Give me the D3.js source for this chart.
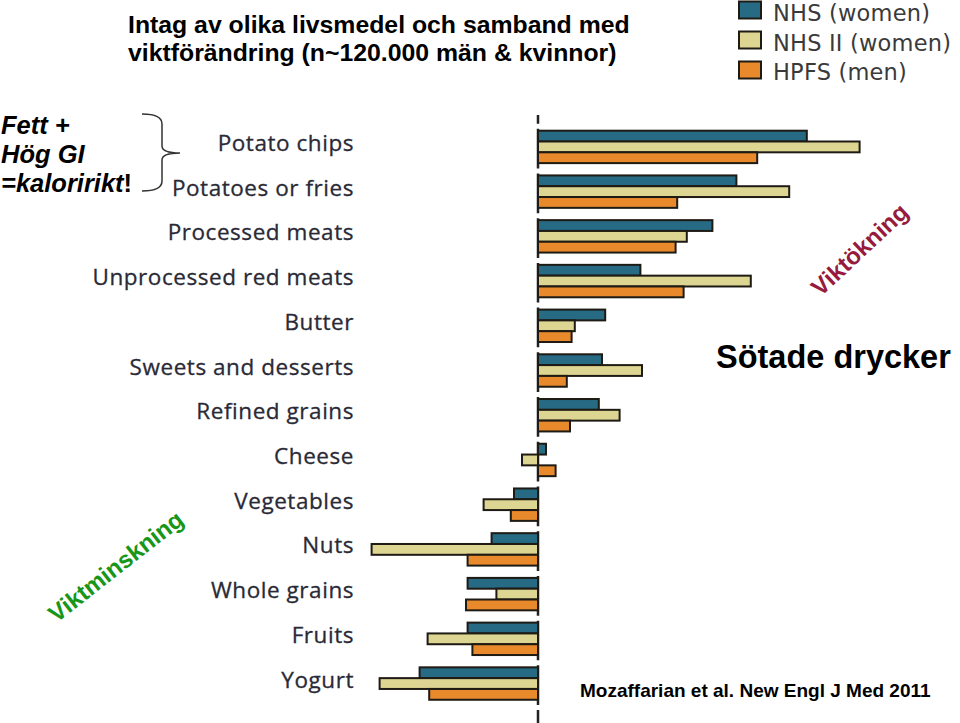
<!DOCTYPE html>
<html>
<head>
<meta charset="utf-8">
<script src="https://cdn.jsdelivr.net/npm/d3@7"></script>
<style>
  html, body { margin: 0; padding: 0; background: #fff; }
  svg { display: block; }
</style>
</head>
<body>
<svg id="chart" width="960" height="723"></svg>
<script>
// ---- data (weight change, lb per 4 years) ----
const categories = ["Potato chips", "Potatoes or fries", "Processed meats", "Unprocessed red meats",
  "Butter", "Sweets and desserts", "Refined grains", "Cheese", "Vegetables", "Nuts",
  "Whole grains", "Fruits", "Yogurt"];
const seriesNames = ["NHS (women)", "NHS II (women)", "HPFS (men)"];
const nhs    = [1.68, 1.24, 1.09, 0.64, 0.42, 0.40, 0.38, 0.05, -0.15, -0.29, -0.44, -0.44, -0.74];
const nhs2   = [2.01, 1.57, 0.93, 1.33, 0.23, 0.65, 0.51, -0.10, -0.34, -1.04, -0.26, -0.69, -0.99];
const hpfs   = [1.37, 0.87, 0.86, 0.91, 0.21, 0.18, 0.20, 0.11, -0.17, -0.44, -0.45, -0.41, -0.68];
const seriesValues = [nhs, nhs2, hpfs];
const colors = ["#276a84", "#ddd592", "#e88a2c"];

const svg = d3.select("#chart");

// scales
const x = d3.scaleLinear().domain([-1.5, 2.5]).range([298, 938]);
const y = d3.scaleBand().domain(categories)
  .range([124.55, 124.55 + 44.72 * categories.length])
  .paddingInner(0.275).paddingOuter(0.1375);
const ySub = d3.scaleBand().domain(d3.range(seriesNames.length)).range([0, y.bandwidth()]);

// dashed zero line
const step = y.step();
svg.append("line")
  .attr("x1", x(0)).attr("x2", x(0))
  .attr("y1", 115).attr("y2", 723)
  .attr("stroke", "#222").attr("stroke-width", 2.5)
  .attr("stroke-dasharray", `${step - 5},5`)
  .attr("stroke-dashoffset", 31);

// bars
const barData = [];
categories.forEach((c, i) => {
  seriesValues.forEach((vals, s) => barData.push({ cat: c, s, v: vals[i] }));
});
svg.append("g").selectAll("rect").data(barData).join("rect")
  .attr("x", d => Math.min(x(0), x(d.v)))
  .attr("width", d => Math.abs(x(d.v) - x(0)))
  .attr("y", d => y(d.cat) + ySub(d.s))
  .attr("height", ySub.bandwidth())
  .attr("fill", d => colors[d.s])
  .attr("stroke", "#1e1a14").attr("stroke-width", 2);

// category labels
svg.append("g").selectAll("text").data(categories).join("text")
  .attr("x", 354)
  .attr("y", d => y(d) + y.bandwidth() / 2 - 2)
  .attr("text-anchor", "end")
  .attr("dominant-baseline", "middle")
  .attr("font-family", "'Open Sans', sans-serif")
  .attr("font-size", 22.5)
  .attr("letter-spacing", 0.55)
  .attr("fill", "#2a2a36")
  .attr("stroke", "#2a2a36").attr("stroke-width", 0.3)
  .text(d => d);

// legend
const legend = svg.append("g");
seriesNames.forEach((n, i) => {
  legend.append("rect")
    .attr("x", 739).attr("y", 1.5 + i * 30)
    .attr("width", 22).attr("height", 17)
    .attr("fill", colors[i]).attr("stroke", "#1e1a14").attr("stroke-width", 2);
  legend.append("text")
    .attr("x", 773).attr("y", 21 + i * 29.5)
    .attr("font-family", "'DejaVu Sans', sans-serif")
    .attr("font-size", 22.5)
    .attr("letter-spacing", 0.2)
    .attr("fill", "#3a3a3a")
    .text(n);
});

// title
const title = svg.append("text")
  .attr("font-family", "Arial, 'Liberation Sans', sans-serif")
  .attr("font-weight", "bold").attr("font-size", 24.8).attr("fill", "#000");
title.append("tspan").attr("x", 128).attr("y", 33).text("Intag av olika livsmedel och samband med");
title.append("tspan").attr("x", 128).attr("y", 61).text("viktförändring (n~120.000 män & kvinnor)");

// left annotation
const ann = svg.append("text")
  .attr("font-family", "Arial, 'Liberation Sans', sans-serif")
  .attr("font-weight", "bold").attr("font-style", "italic").attr("font-size", 25.5).attr("fill", "#000");
ann.append("tspan").attr("x", 1).attr("y", 134).text("Fett +");
ann.append("tspan").attr("x", 1).attr("y", 163).text("Hög GI");
ann.append("tspan").attr("x", 1).attr("y", 191.5).text("=kaloririkt");
ann.append("tspan").attr("font-style", "normal").text("!");

// brace
svg.append("path")
  .attr("d", "M142,114 Q162,114 162,124 L162,146 Q162,153 180,153 Q162,153 162,160 L162,181 Q162,191 142,191")
  .attr("fill", "none").attr("stroke", "#333").attr("stroke-width", 1.5);

// rotated annotations
svg.append("text")
  .attr("transform", "translate(861,251) rotate(-43)")
  .attr("text-anchor", "middle").attr("dominant-baseline", "middle")
  .attr("font-family", "Arial, 'Liberation Sans', sans-serif")
  .attr("font-weight", "bold").attr("font-size", 24).attr("fill", "#961b3d")
  .text("Viktökning");
svg.append("text")
  .attr("transform", "translate(117,568) rotate(-38)")
  .attr("text-anchor", "middle").attr("dominant-baseline", "middle")
  .attr("font-family", "Arial, 'Liberation Sans', sans-serif")
  .attr("font-weight", "bold").attr("font-size", 24).attr("fill", "#17961a")
  .text("Viktminskning");

// other text
svg.append("text")
  .attr("x", 716).attr("y", 368)
  .attr("font-family", "Arial, 'Liberation Sans', sans-serif")
  .attr("font-weight", "bold").attr("font-size", 32.5).attr("fill", "#000")
  .text("Sötade drycker");
svg.append("text")
  .attr("x", 580).attr("y", 697)
  .attr("font-family", "Arial, 'Liberation Sans', sans-serif")
  .attr("font-weight", "bold").attr("font-size", 19).attr("fill", "#000")
  .text("Mozaffarian et al. New Engl J Med 2011");
</script>
</body>
</html>
